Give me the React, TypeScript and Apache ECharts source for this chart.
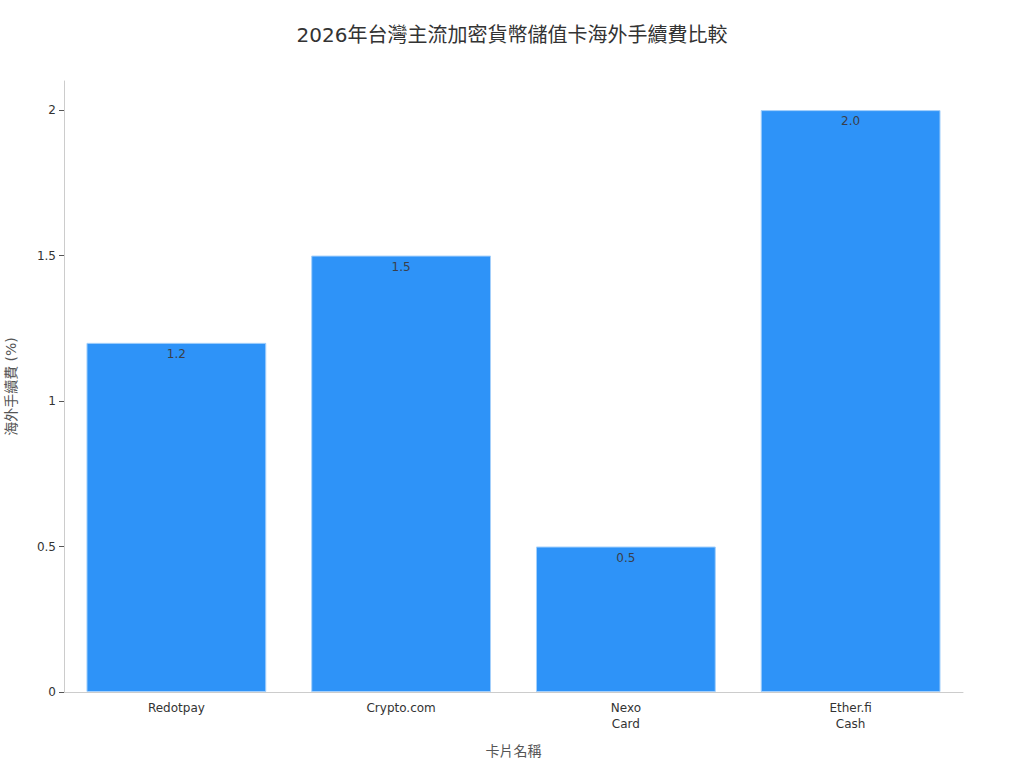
import React, { useEffect, useRef } from "react";
import * as echarts from "echarts";

// 카드별 해외 수수료
const cards = ["Redotpay", "Crypto.com", "Nexo\nCard", "Ether.fi\nCash"];
const fees = [1.2, 1.5, 0.5, 2.0];
const yTicks = [0, 0.5, 1, 1.5, 2];

const FONT = "'DejaVu Sans', 'Noto Sans CJK TC', sans-serif";

const App: React.FC = () => {
  const chartRef = useRef<HTMLDivElement | null>(null);

  useEffect(() => {
    document.body.style.margin = "0";
    if (!chartRef.current) return;
    const chart = echarts.init(chartRef.current, undefined, { renderer: "svg" });

    const option = {
      animation: false,
      textStyle: { fontFamily: FONT },
      title: {
        text: "2026年台灣主流加密貨幣儲值卡海外手續費比較",
        left: "center",
        top: 20,
        textStyle: { fontSize: 20, fontWeight: "normal", color: "#333", fontFamily: FONT },
      },
      grid: { left: 64, right: 61, top: 81, bottom: 76, outerBoundsMode: "none", containLabel: false },
      xAxis: {
        type: "category",
        data: cards,
        name: "卡片名稱",
        nameLocation: "middle",
        nameGap: 52,
        nameTextStyle: { fontSize: 14, color: "#555", fontFamily: FONT },
        axisLine: { lineStyle: { color: "#ccc" } },
        axisTick: { alignWithLabel: true, length: 4, lineStyle: { color: "#555" } },
        axisLabel: { fontSize: 12, color: "#333", margin: 8, lineHeight: 16, fontFamily: FONT },
      },
      yAxis: {
        type: "value",
        min: 0,
        max: 2.1,
        interval: 0.5,
        name: "海外手續費 (%)",
        nameLocation: "middle",
        nameGap: 46,
        nameTextStyle: { fontSize: 14, color: "#555", fontFamily: FONT },
        axisLine: { show: true, lineStyle: { color: "#ccc" } },
        axisTick: { show: true, length: 5, lineStyle: { color: "#555" }, customValues: yTicks },
        axisLabel: { fontSize: 12, color: "#333", margin: 8, customValues: yTicks, fontFamily: FONT },
        splitLine: { show: false },
      },
      series: [
        {
          type: "bar",
          data: fees,
          barCategoryGap: "20%",
          itemStyle: { color: "#2E93F8", borderColor: "#A5D0FB", borderWidth: 1 },
          label: {
            show: true,
            position: "insideTop",
            distance: 5,
            fontSize: 12,
            color: "#3a3f4a",
            fontFamily: FONT,
            formatter: (p: any) => Number(p.value).toFixed(1),
          },
        },
      ],
    };

    chart.setOption(option);
    return () => {
      chart.dispose();
    };
  }, []);

  return <div ref={chartRef} style={{ width: "1024px", height: "768px" }} />;
};

export default App;
